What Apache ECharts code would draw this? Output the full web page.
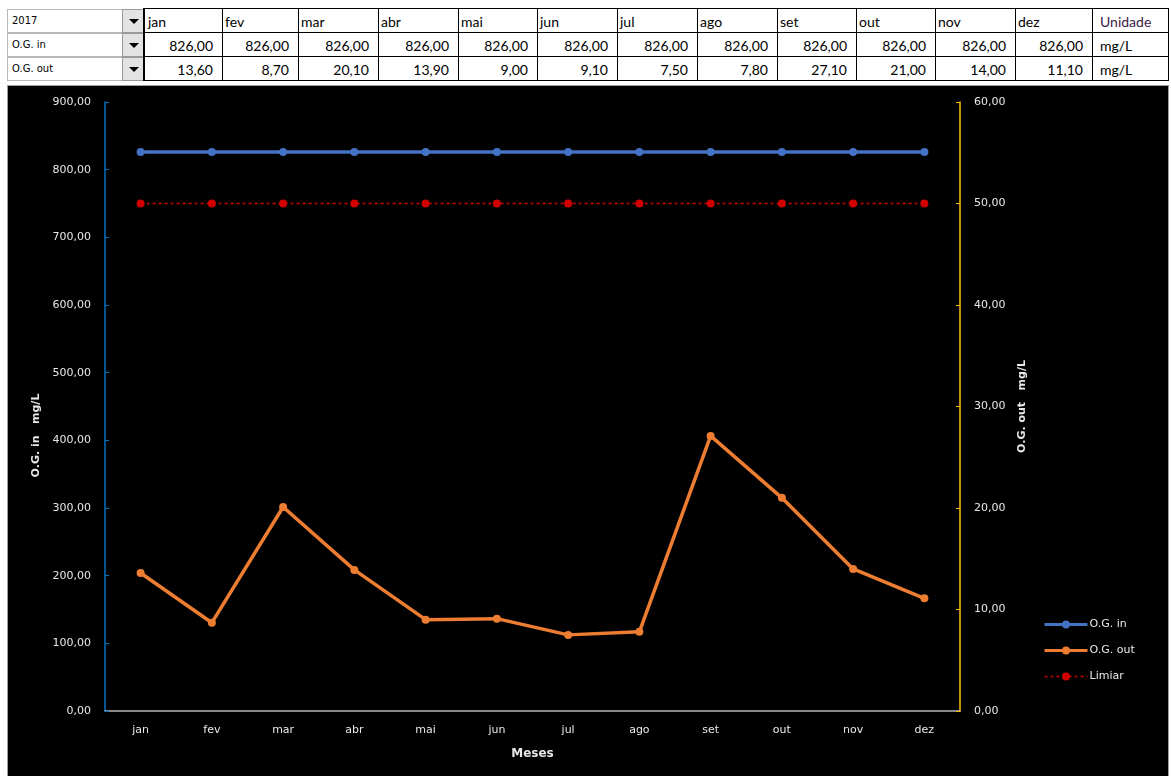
<!DOCTYPE html>
<html>
<head>
<meta charset="utf-8">
<title>O.G. in / O.G. out 2017</title>
<script src="https://cdn.jsdelivr.net/npm/echarts@6/dist/echarts.min.js"></script>
<style>
  html, body { margin: 0; padding: 0; background: #ffffff; width: 1171px; height: 776px; overflow: hidden; }
  #sheet { position: absolute; left: 0; top: 0; width: 1171px; height: 84px; }
  .cell { position: absolute; box-sizing: border-box; height: 24px; line-height: 25px;
          font-family: Lato, "Open Sans", sans-serif; font-size: 14px; color: #000; white-space: nowrap; overflow: hidden; }
  .grid { border-right: 1px solid #000; border-bottom: 1px solid #000; }
  .lbl { border: 1px solid #b8b8b8; border-right: none; font-family: "DejaVu Sans", sans-serif; font-size: 10px; padding-left: 4px; line-height: 22px; }
  .btn { border: 1px solid #9a9a9a; background: #e3e3e3; }
  .btn:after { content: ""; position: absolute; left: 6px; top: 9px; border-left: 5px solid transparent; border-right: 5px solid transparent; border-top: 5px solid #000; }
  .num { text-align: right; padding-right: 9px; }
  .hdr { text-align: left; padding-left: 3px; }
  .unit { text-align: left; padding-left: 8px; }
  #frame { position: absolute; left: 7px; top: 85px; width: 1160px; height: 700px; border: 1px solid #9c9c9c; background: #000; }
  #chart { position: absolute; left: 0; top: 0; width: 1160px; height: 690px; }
</style>
</head>
<body>
<div id="sheet"></div>
<div id="frame"><div id="chart"></div></div>
<script>
// Monthly oil & grease readings, 2017
const year = '2017';
const months = ['jan', 'fev', 'mar', 'abr', 'mai', 'jun', 'jul', 'ago', 'set', 'out', 'nov', 'dez'];
const ogIn = [826, 826, 826, 826, 826, 826, 826, 826, 826, 826, 826, 826];
const ogOut = [13.6, 8.7, 20.1, 13.9, 9.0, 9.1, 7.5, 7.8, 27.1, 21.0, 14.0, 11.1];
const limiar = [50, 50, 50, 50, 50, 50, 50, 50, 50, 50, 50, 50];
const unitHeader = 'Unidade';
const unit = 'mg/L';
const rowNames = ['O.G. in', 'O.G. out'];
const seriesNames = ['O.G. in', 'O.G. out', 'Limiar'];
const axisNames = ['Meses', 'O.G. in   mg/L', 'O.G. out   mg/L'];

const fmt = v => v.toFixed(2).replace('.', ',');

// ---- spreadsheet strip above the chart ----
const colEdges = [145, 222, 298, 378, 458, 537, 617, 697, 777, 856, 935, 1015, 1092, 1168];
const rowTops = [9, 33, 57];
const sheet = document.getElementById('sheet');
function cell(x, y, w, cls, text) {
  const d = document.createElement('div');
  d.className = 'cell ' + cls;
  d.style.left = x + 'px'; d.style.top = y + 'px'; d.style.width = w + 'px';
  if (text !== undefined) d.textContent = text;
  sheet.appendChild(d);
  return d;
}
const rowLabels = [year, rowNames[0], rowNames[1]];
const rowValues = [months, ogIn.map(fmt), ogOut.map(fmt)];
rowTops.forEach((y, r) => {
  cell(7, y, 115, 'lbl', rowLabels[r]);
  cell(122, y, 22, 'btn');
  rowValues[r].forEach((v, c) => {
    cell(colEdges[c], y, colEdges[c + 1] - colEdges[c] + 1, 'grid ' + (r === 0 ? 'hdr' : 'num'), v);
  });
  const u = cell(colEdges[12], y, colEdges[13] - colEdges[12] + 1, 'grid unit', r === 0 ? unitHeader : unit);
  if (r === 0) u.style.color = '#3a2046';
});
// top border line and thick separator
const topLine = document.createElement('div');
topLine.style.cssText = 'position:absolute;left:144px;top:8px;width:1025px;height:1px;background:#000;';
sheet.appendChild(topLine);
const sep = document.createElement('div');
sep.style.cssText = 'position:absolute;left:143px;top:8px;width:2px;height:73px;background:#000;';
sheet.appendChild(sep);

// ---- chart ----
const chart = echarts.init(document.getElementById('chart'), null, { renderer: 'canvas' });
const textColor = '#e8e8e8';
const font = '"DejaVu Sans", Verdana, sans-serif';
const colors = { in: '#4472C4', out: '#ED7D31', lim: '#D00000' };

chart.setOption({
  backgroundColor: '#000000',
  animation: false,
  textStyle: { fontFamily: font },
  grid: { left: 97, right: 208, top: 16, bottom: 65, containLabel: false },
  legend: {
    orient: 'vertical',
    left: 1030,
    top: 528,
    itemWidth: 43,
    itemHeight: 10,
    itemGap: 15,
    textStyle: { color: textColor, fontSize: 11, fontFamily: font, padding: [0, 0, 0, -3] },
    data: [
      { name: seriesNames[0], lineStyle: { width: 3 } },
      { name: seriesNames[1], lineStyle: { width: 3 } },
      { name: seriesNames[2], lineStyle: { width: 1.5, type: [3, 3] } }
    ]
  },
  xAxis: {
    type: 'category',
    data: months,
    boundaryGap: true,
    name: axisNames[0],
    nameLocation: 'middle',
    nameGap: 37,
    nameTextStyle: { color: textColor, fontSize: 12, fontWeight: 'bold' },
    axisLine: { lineStyle: { color: '#b5b5b5', width: 1.5 } },
    axisTick: { alignWithLabel: true, length: 4, lineStyle: { color: '#b5b5b5' } },
    axisLabel: { color: textColor, fontSize: 11, margin: 14 }
  },
  yAxis: [
    {
      type: 'value',
      min: 0, max: 900, interval: 100,
      name: axisNames[1],
      nameLocation: 'middle',
      nameRotate: 90,
      nameGap: 62,
      nameTextStyle: { color: textColor, fontSize: 11, fontWeight: 'bold', padding: [0, 58, 0, 0] },
      axisLine: { show: true, lineStyle: { color: '#0070C0', width: 1.5 } },
      axisTick: { show: true, inside: true, length: 4, lineStyle: { color: '#0070C0' } },
      axisLabel: { color: textColor, fontSize: 11, margin: 14, formatter: fmt },
      splitLine: { show: false }
    },
    {
      type: 'value',
      min: 0, max: 60, interval: 10,
      position: 'right',
      name: axisNames[2],
      nameLocation: 'middle',
      nameRotate: 90,
      nameGap: 56,
      nameTextStyle: { color: textColor, fontSize: 11, fontWeight: 'bold' },
      axisLine: { show: true, lineStyle: { color: '#FFC000', width: 1.5 } },
      axisTick: { show: true, inside: true, length: 4, lineStyle: { color: '#FFC000' } },
      axisLabel: { color: textColor, fontSize: 11, margin: 14, formatter: fmt },
      splitLine: { show: false }
    }
  ],
  series: [
    {
      name: seriesNames[0], type: 'line', yAxisIndex: 0, data: ogIn,
      symbol: 'circle', symbolSize: 8,
      itemStyle: { color: colors.in },
      lineStyle: { color: colors.in, width: 3.5 }
    },
    {
      name: seriesNames[1], type: 'line', yAxisIndex: 1, data: ogOut,
      symbol: 'circle', symbolSize: 8,
      itemStyle: { color: colors.out },
      lineStyle: { color: colors.out, width: 3.5 }
    },
    {
      name: seriesNames[2], type: 'line', yAxisIndex: 1, data: limiar,
      symbol: 'circle', symbolSize: 8,
      itemStyle: { color: colors.lim },
      lineStyle: { color: colors.lim, width: 1.5, type: [3, 3] }
    }
  ]
});
</script>
</body>
</html>
